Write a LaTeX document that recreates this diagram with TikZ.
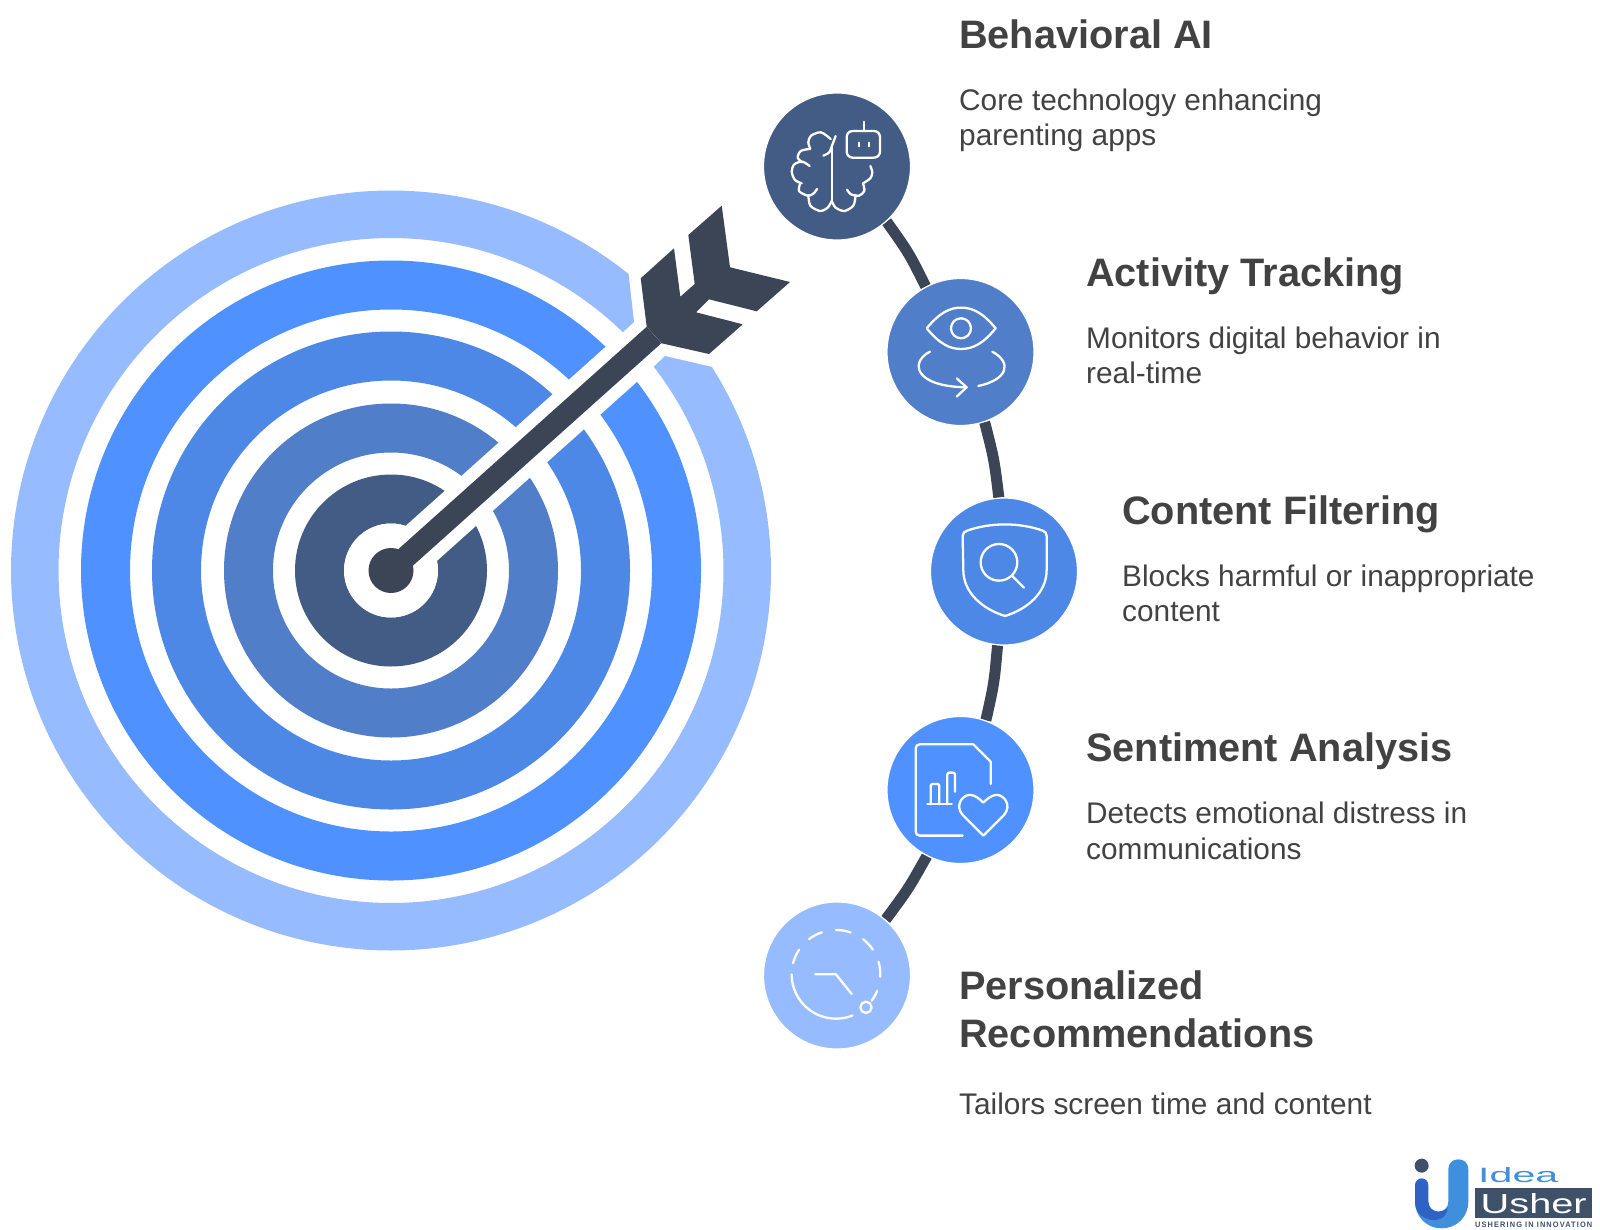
\documentclass[tikz,border=0pt]{standalone}
\usepackage{fontspec}
\usepackage{graphicx}
\setmainfont{Liberation Sans}
\usetikzlibrary{backgrounds,calc}
\definecolor{cLight}{HTML}{96BCFF}
\definecolor{cBright}{HTML}{4F92FF}
\definecolor{cMid}{HTML}{4D88E6}
\definecolor{cSteel}{HTML}{507EC9}
\definecolor{cDeep}{HTML}{425C85}
\definecolor{cInk}{HTML}{3B4556}
\definecolor{cText}{HTML}{424242}
\definecolor{cLogoBlue}{HTML}{3F8FDD}
\definecolor{cLogoDark}{HTML}{2F62C2}
\definecolor{cLogoSlate}{HTML}{3F5069}
\tikzset{
  stepdisc/.style={circle,minimum size=147pt,inner sep=0pt,draw=white,line width=1.2pt},
  linkarc/.style={draw=cInk,line width=11pt},
  iconline/.style={draw=white,line width=2.3pt,line cap=round,line join=round},
  headtext/.style={anchor=base west,inner sep=0pt,align=left,text=cText,font=\fontsize{39.7}{47.8}\selectfont\bfseries},
  bodytext/.style={anchor=base west,inner sep=0pt,align=left,text=cText,font=\fontsize{29.8}{35.7}\selectfont},
}
\begin{document}
\begin{tikzpicture}[x=1pt,y=-1pt]
\useasboundingbox (0,0) rectangle (1600,1229);
\begin{scope}[on background layer]
\fill[white] (0,0) rectangle (1600,1229);
\end{scope}
\coordinate (tc) at (391,570.5);
% outer ring with notch
\fill[cLight] plot[domain=-32.4:308.7,samples=160,smooth] ({391+380*cos(\x)},{570.5+380*sin(\x)})
  -- (634,322) -- (623,332)
  -- plot[domain=314.2:-37.8,samples=160,smooth] ({391+332.5*cos(\x)},{570.5+332.5*sin(\x)})
  -- (665,356) -- cycle;
% rings
\fill[cBright,even odd rule] (tc) circle[radius=310] (tc) circle[radius=261];
\fill[cMid,even odd rule] (tc) circle[radius=239] (tc) circle[radius=190];
\fill[cSteel,even odd rule] (tc) circle[radius=167] (tc) circle[radius=118];
\fill[cDeep,even odd rule] (tc) circle[radius=96] (tc) circle[radius=47];
% white band along the shaft
\coordinate (shaftEnd) at (654,335);
\draw[white,line width=47pt] (tc) -- ($(tc)!0.93!(shaftEnd)$);
\fill[white] (tc) circle[radius=47];
% arrow
\draw[cInk,line width=22pt] (tc) -- (shaftEnd);
\fill[cInk] (646.7,326.7) -- (640.7,278.3) -- (674,248.3) -- (680.3,296.7) -- (694.7,284)
  -- (688.3,235) -- (721.7,205.7) -- (730,267.3) -- (790,282) -- (756.7,311.3)
  -- (709,299.3) -- (696,312.3) -- (742.7,324.3) -- (709,354) -- (661.7,343.3) -- cycle;
\fill[cInk] (tc) circle[radius=22.5];
% step nodes
\node[stepdisc,fill=cDeep] (n1) at (837,166.5) {};
\node[stepdisc,fill=cSteel] (n2) at (960.5,352) {};
\node[stepdisc,fill=cMid] (n3) at (1004,571.5) {};
\node[stepdisc,fill=cBright] (n4) at (960.5,790) {};
\node[stepdisc,fill=cLight] (n5) at (837,975.5) {};
\begin{scope}[on background layer]
\draw[linkarc] (n1.-48) .. controls (908.8,252.7) .. (n2.118);
\draw[linkarc] (n2.-71) .. controls (994.2,459.5) .. (n3.94);
\draw[linkarc] (n3.-95) .. controls (994.2,683.2) .. (n4.70);
\draw[linkarc] (n4.-117) .. controls (908.3,889) .. (n5.49);
\end{scope}
% brain + robot
\begin{scope}[shift={(785,115)},x=.3333pt,y=-.3333pt]
\draw[iconline] (140,95) -- (140,258);
\draw[iconline] plot[smooth] coordinates {(115,122) (133,112) (141,92) (152,63)};
\draw[iconline] plot[smooth] coordinates {(137,72) (108,52) (78,62) (70,82) (76,102)};
\draw[iconline] plot[smooth] coordinates {(72,102) (47,108) (38,128) (52,142)};
\draw[iconline] plot[smooth] coordinates {(74,153) (52,140) (28,148) (20,170) (30,195) (50,205)};
\draw[iconline] plot[smooth] coordinates {(46,204) (42,228) (68,242) (85,236) (96,222)};
\draw[iconline] plot[smooth] coordinates {(70,240) (76,272) (105,288) (128,278) (140,258)};
\draw[iconline] plot[smooth] coordinates {(140,258) (152,278) (178,288) (205,272) (212,240)};
\draw[iconline] plot[smooth] coordinates {(186,224) (198,238) (222,242) (238,228) (234,205)};
\draw[iconline] plot[smooth] coordinates {(234,205) (256,190) (262,172) (256,153)};
\draw[iconline,rounded corners=6pt] (185,48) rectangle (285,128);
\draw[iconline] (237,20) -- (237,48);
\draw[iconline] (221,83) -- (221,94);
\draw[iconline] (253,83) -- (253,94);
\end{scope}
% eye
\begin{scope}[shift={(750,85)},x=.3333pt,y=-.3333pt]
\draw[iconline] (530,730) .. controls (570,682) and (600,668) .. (633,668)
  .. controls (670,668) and (700,685) .. (737,730)
  .. controls (700,775) and (670,792) .. (633,792)
  .. controls (600,792) and (570,778) .. (530,730) -- cycle;
\draw[iconline] (633,730) circle[radius=30];
\draw[iconline] (540,800) .. controls (480,830) and (490,905) .. (650,907);
\draw[iconline] (620,880) -- (650,907) -- (620,935);
\draw[iconline] (727,800) .. controls (790,835) and (770,885) .. (685,903);
\end{scope}
% shield
\begin{scope}[shift={(750,490)},x=.3333pt,y=-.3333pt]
\draw[iconline] (652,122) .. controls (720,97) and (810,97) .. (878,122)
  .. controls (886,125) and (890,128) .. (890,138) -- (890,240)
  .. controls (890,310) and (830,358) .. (765,378)
  .. controls (700,358) and (640,310) .. (640,240) -- (638,138)
  .. controls (638,128) and (644,125) .. (652,122) -- cycle;
\draw[iconline] (747,217) circle[radius=55];
\draw[iconline] (787,258) -- (822,293);
% document + heart
\draw[iconline,rounded corners=4pt] (638,1037) -- (497,1037) -- (497,763) -- (670,763);
\draw[iconline] (670,763) -- (722,815) -- (722,882);
\draw[iconline] (532,943) -- (605,943);
\draw[iconline,rounded corners=2pt] (542,943) -- (542,882) -- (568,882) -- (568,943);
\draw[iconline,rounded corners=2pt] (592,943) -- (592,848) -- (615,848) -- (615,905);
\draw[iconline] (700,1037) -- (638,975)
  .. controls (612,945) and (640,912) .. (662,915)
  .. controls (675,915) and (690,928) .. (700,938)
  .. controls (710,928) and (725,915) .. (738,915)
  .. controls (760,912) and (788,945) .. (762,975) -- cycle;
\end{scope}
% dashed circle
\begin{scope}[shift={(750,880)},x=.3333pt,y=-.3333pt]
\draw[iconline] plot[domain=68:180,samples=30,smooth] ({258+133*cos(\x)},{283+133*sin(\x)});
\foreach \a/\b in {194.5/213.6,232.7/251.4,270/289.2,307.7/326.2,343.7/363,22/36.4}{
  \draw[iconline] plot[domain=\a:\b,samples=8,smooth] ({258+133*cos(\x)},{283+133*sin(\x)});
}
\draw[iconline] (348,382) circle[radius=17];
\draw[iconline] (195,283) -- (258,283) -- (305,342);
\end{scope}
% texts
\node[headtext] (h1) at (959,48.5) {Behavioral AI};
\node[bodytext] (b1) at (959,145.7) {Core technology enhancing\\parenting apps};
\node[headtext] (h2) at (1086,286.5) {Activity Tracking};
\node[bodytext] (b2) at (1086,383.7) {Monitors digital behavior in\\real-time};
\node[headtext] (h3) at (1122,524) {Content Filtering};
\node[bodytext] (b3) at (1122,621.7) {Blocks harmful or inappropriate\\content};
\node[headtext] (h4) at (1086,761.5) {Sentiment Analysis};
\node[bodytext] (b4) at (1086,859.2) {Detects emotional distress in\\communications};
\node[headtext] (h5) at (959,1047.3) {Personalized\\Recommendations};
\node[bodytext] (b5) at (959,1114) {Tailors screen time and content};
% logo
\begin{scope}[shift={(1405,1150)},x=.3333pt,y=-.3333pt]
\fill[cLogoSlate] (50,47) circle[radius=21];
\fill[cLogoBlue] (130,58) .. controls (130,40) and (142,28) .. (160,28)
  .. controls (178,28) and (190,40) .. (190,58) -- (190,155)
  .. controls (190,200) and (155,235) .. (110,235)
  .. controls (65,235) and (30,200) .. (30,155) -- (70,155)
  .. controls (70,172) and (83,185) .. (100,185)
  .. controls (117,185) and (130,172) .. (130,155) -- cycle;
\fill[cLogoDark] (30,105) .. controls (30,94) and (39,85) .. (50,85)
  .. controls (61,85) and (70,94) .. (70,105) -- (70,155)
  .. controls (70,172) and (83,185) .. (100,185)
  .. controls (110,185) and (120,182) .. (128,172)
  .. controls (125,205) and (100,212) .. (80,210)
  .. controls (50,205) and (30,185) .. (30,155) -- cycle;
\end{scope}
\node[inner sep=0pt,text=cLogoBlue,anchor=south west] (logoIdea) at (1478,1183) {\resizebox{80pt}{15pt}{Idea}};
\node[fill=cLogoSlate,minimum width=117pt,minimum height=30pt,inner sep=0pt,anchor=north west,text=white] (logoUsher) at (1475,1188) {\resizebox{106pt}{20pt}{Usher}};
\node[inner sep=0pt,text=cLogoSlate,anchor=south west] (logoTag) at (1475,1228) {\resizebox{117pt}{5.5pt}{\bfseries\addfontfeature{LetterSpace=15}USHERING IN INNOVATION}};
\end{tikzpicture}
\end{document}
